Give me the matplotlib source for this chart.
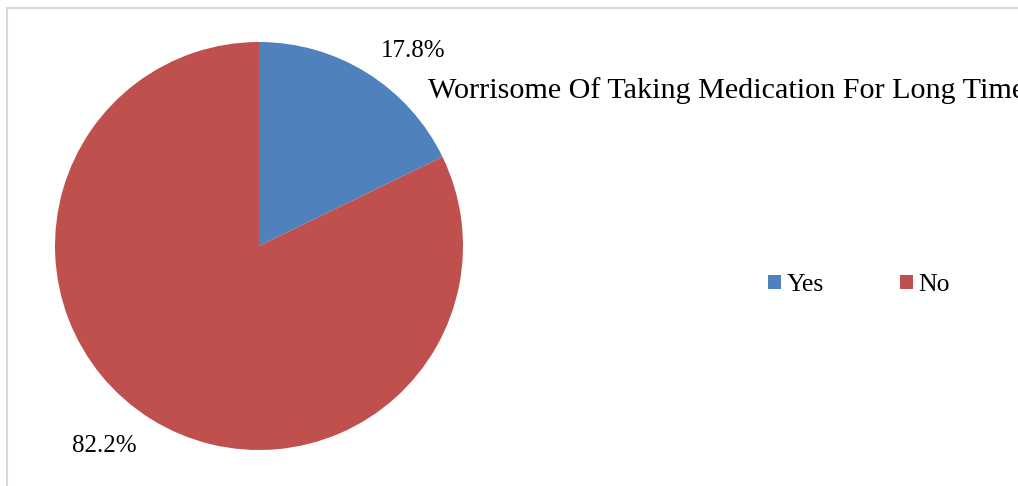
import numpy as np
import matplotlib.pyplot as plt
from matplotlib.patches import Rectangle, Patch

# data
labels = ['Yes', 'No']
values = [17.8, 82.2]
colors = ['#4f81bd', '#c0504d']
title = 'Worrisome Of Taking Medication For Long Time'

plt.rcParams['font.family'] = ['Liberation Serif', 'DejaVu Serif']

W, H = 1018, 486
fig = plt.figure(figsize=(W / 100, H / 100), dpi=100)

# light grey chart frame (runs off right and bottom edge)
fig.patches.append(Rectangle((7 / W, -0.1), 1.2, 1 - 8 / H + 0.1, transform=fig.transFigure,
                             fill=False, edgecolor='#d9d9d9', linewidth=1.5))

# pie axes: centre (259, 246), radius 204 px
cx, cy, r = 259, 246, 204
ax = fig.add_axes([(cx - r) / W, (H - cy - r) / H, 2 * r / W, 2 * r / H])
wedges, _ = ax.pie(values, colors=colors, startangle=90, counterclock=False, radius=1)

# percentage labels outside the slices, a little behind each slice's middle
for w, v in zip(wedges, values):
    mid = np.deg2rad((w.theta1 + w.theta2) / 2 - 6)
    ax.text(1.23 * np.cos(mid), 1.23 * np.sin(mid), f'{v:.1f}%', fontsize=18,
            ha='center', va='center_baseline', clip_on=False)

ax.set_xlim(-1, 1)
ax.set_ylim(-1, 1)
ax.set_aspect('equal')
ax.axis('off')

# title is cut by the right edge in the original too
fig.text(428 / W, 1 - 91 / H, title, fontsize=21.7, va='center', ha='left')

handles = [Patch(facecolor=c, edgecolor='none') for c in colors]
fig.legend(handles, labels, loc='center left', bbox_to_anchor=(768 / W, 1 - 285 / H),
           ncol=2, frameon=False, fontsize=18.5, handlelength=0.5, handleheight=0.5,
           handletextpad=0.23, columnspacing=2.95, borderaxespad=0, borderpad=0)

fig.savefig('out.png', dpi=100)
